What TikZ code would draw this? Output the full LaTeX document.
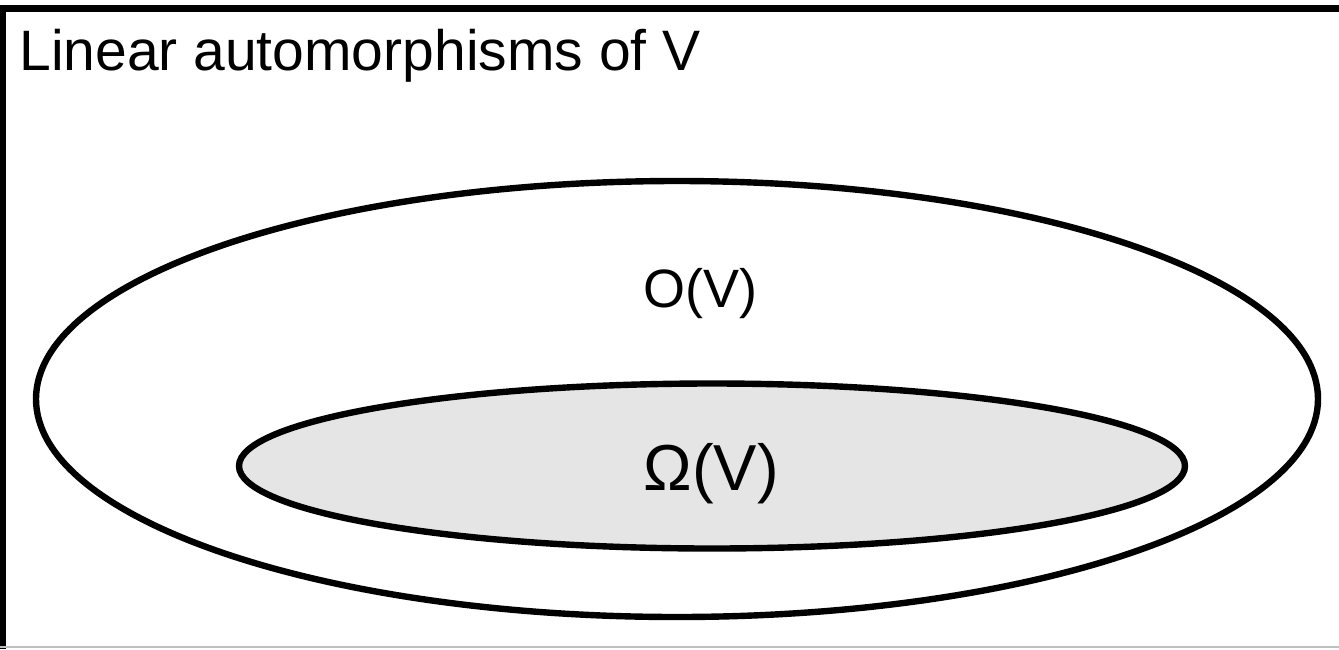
\documentclass[tikz,border=0pt]{standalone}
\usepackage{fontspec}
\setmainfont{Liberation Sans}
\usepackage{tikz}

\begin{document}
\begin{tikzpicture}[x=0.5pt, y=-0.5pt,
    setline/.style={line width=3.2pt},
    lbl/.style={inner sep=0pt, anchor=base}]
  \useasboundingbox (0, 0) rectangle (1339, 649);
  \fill[white] (0, 0) rectangle (1339, 649);
  % frame
  \draw[line width=3.5pt] (1339, 8.5) -- (2.5, 8.5) -- (2.5, 649);
  \draw[gray!50, line width=0.8pt] (0, 647) -- (1339, 647);
  % sets
  \draw[setline] (677, 399) ellipse [x radius=641, y radius=218];
  \draw[setline, fill=black!10] (712, 466) ellipse [x radius=473, y radius=82.5];
  \node[lbl, anchor=base west] (title) at (19, 70)
    {\fontsize{28.5}{32}\selectfont Linear automorphisms of V};
  \node[lbl] (outer) at (700, 307) {\fontsize{27}{31}\selectfont O(V)};
  \node[lbl] (inner) at (711, 490) {\fontsize{32.5}{37}\selectfont Ω(V)};
\end{tikzpicture}
\end{document}
